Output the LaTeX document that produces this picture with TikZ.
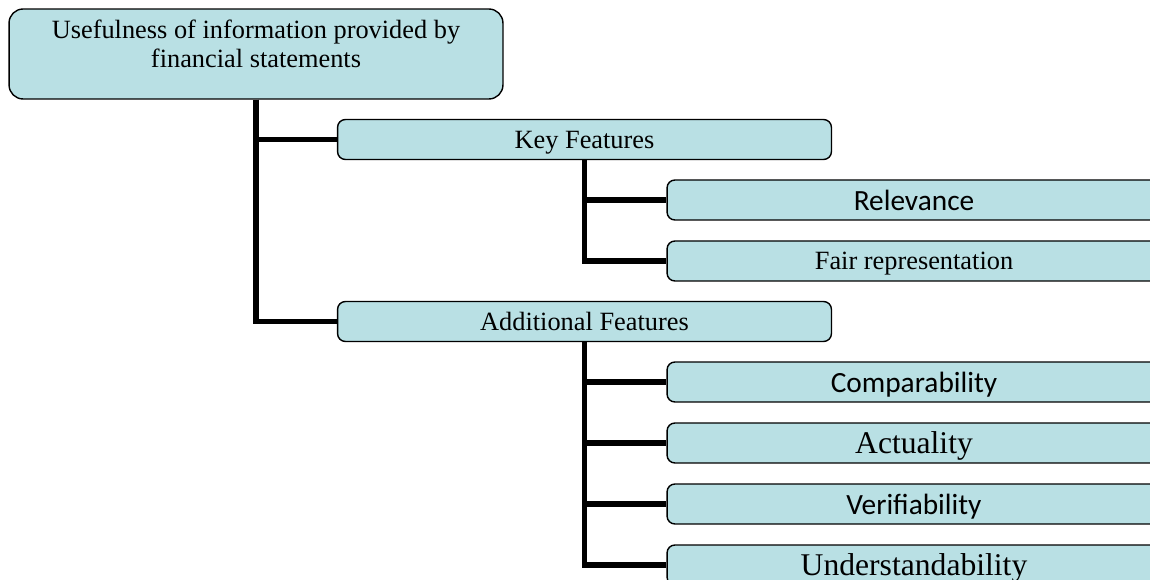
\documentclass[tikz,border=0pt]{standalone}
\usepackage{fontspec}
\setmainfont{Liberation Serif}
\newfontfamily\carlito{Carlito}
\usepackage{tikz}
\usetikzlibrary{positioning}
\pgfdeclarelayer{nodelayer}
\pgfdeclarelayer{edgelayer}
\pgfsetlayers{nodelayer,edgelayer,main}
\definecolor{boxfill}{RGB}{185,224,228}
\tikzset{
  featbox/.style={draw, fill=boxfill, rounded corners=4.5pt, line width=0.8pt,
    minimum width=9.88cm, minimum height=0.8cm, inner sep=0pt, text depth=0pt,
    font=\fontsize{15}{18}\selectfont},
  rootbox/.style={featbox, rounded corners=8pt, minimum height=1.8cm,
    align=center, text depth=0.4cm, font=\fontsize{15}{16.5}\selectfont},
  sanslabel/.style={font=\carlito\fontsize{16.7}{19}\selectfont},
  biglabel/.style={font=\fontsize{18}{21}\selectfont},
  link/.style={line width=3.4pt},
}

\begin{document}
\begin{tikzpicture}[x=0.02cm, y=-0.02cm]
  \useasboundingbox (0,0) rectangle (1150,580);
  \clip (0,0) rectangle (1150,580);
  \begin{pgfonlayer}{nodelayer}
    \node [rootbox] (root) at (256, 54) {Usefulness of information provided by\\financial statements};
    \node [featbox] (keyfeat) at (584.5, 139.5) {Key Features};
    \node [featbox] (addfeat) at (584.5, 321.5) {Additional Features};
    \node [featbox, sanslabel] (relev) at (914, 200) {Relevance};
    \node [featbox] (fairrep) at (914, 261) {Fair representation};
    \node [featbox, sanslabel] (compar) at (914, 382) {Comparability};
    \node [featbox, biglabel] (actual) at (914, 443) {Actuality};
    \node [featbox, sanslabel] (verif) at (914, 504) {Verifiability};
    \node [featbox, biglabel] (underst) at (914, 565) {Understandability};
  \end{pgfonlayer}
  \begin{pgfonlayer}{edgelayer}
    \draw [link] (root.south) |- (keyfeat.west);
    \draw [link] (root.south) |- (addfeat.west);
    \draw [link] (keyfeat.south) |- (relev.west);
    \draw [link] (keyfeat.south) |- (fairrep.west);
    \draw [link] (addfeat.south) |- (compar.west);
    \draw [link] (addfeat.south) |- (actual.west);
    \draw [link] (addfeat.south) |- (verif.west);
    \draw [link] (addfeat.south) |- (underst.west);
  \end{pgfonlayer}
\end{tikzpicture}
\end{document}
